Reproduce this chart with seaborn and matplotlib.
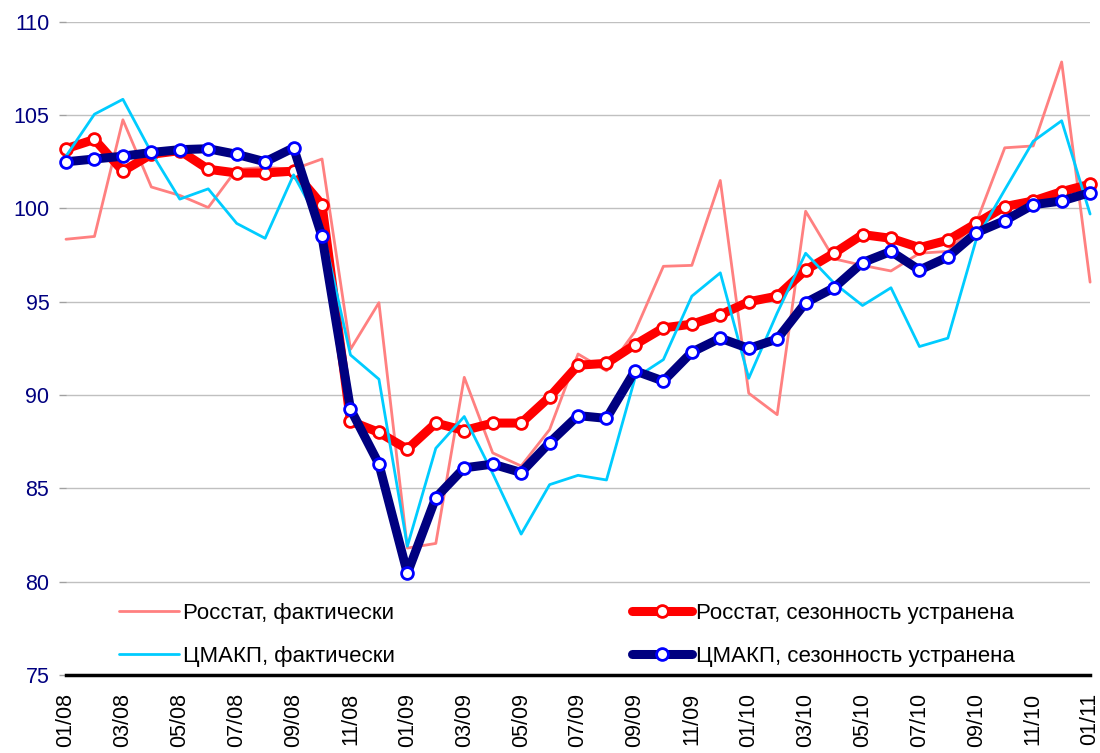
import numpy as np
import pandas as pd
import matplotlib
matplotlib.use("Agg")
import matplotlib.pyplot as plt
import seaborn as sns

# Monthly index values, 01/08 .. 01/11
months = ["01/08", "02/08", "03/08", "04/08", "05/08", "06/08", "07/08", "08/08",
          "09/08", "10/08", "11/08", "12/08", "01/09", "02/09", "03/09", "04/09",
          "05/09", "06/09", "07/09", "08/09", "09/09", "10/09", "11/09", "12/09",
          "01/10", "02/10", "03/10", "04/10", "05/10", "06/10", "07/10", "08/10",
          "09/10", "10/10", "11/10", "12/10", "01/11"]

rosstat_fact = [98.35, 98.5, 104.75, 101.15, 100.7, 100.05, 102.1, 102.2, 102.1, 102.65,
                92.45, 94.95, 81.8, 82.05, 90.95, 86.9, 86.2, 88.15, 92.2, 91.3,
                93.4, 96.9, 96.95, 101.5, 90.1, 88.95, 99.85, 97.3, 96.95, 96.65,
                97.6, 97.7, 99.25, 103.25, 103.35, 107.85, 96.05]
rosstat_sa = [103.2, 103.7, 102.0, 102.9, 103.1, 102.1, 101.9, 101.9, 102.0, 100.2,
              88.6, 88.0, 87.1, 88.5, 88.1, 88.5, 88.5, 89.9, 91.6, 91.7,
              92.7, 93.6, 93.8, 94.3, 95.0, 95.3, 96.7, 97.6, 98.6, 98.4,
              97.9, 98.3, 99.2, 100.1, 100.4, 100.9, 101.3]
cmakp_fact = [102.8, 105.05, 105.85, 103.0, 100.5, 101.05, 99.2, 98.4, 101.8, 99.0,
              92.15, 90.85, 81.9, 87.15, 88.85, 85.8, 82.55, 85.2, 85.7, 85.45,
              90.9, 91.9, 95.3, 96.55, 90.9, 94.4, 97.6, 96.0, 94.8, 95.75,
              92.6, 93.05, 98.35, 101.0, 103.6, 104.7, 99.7]
cmakp_sa = [102.5, 102.65, 102.8, 103.0, 103.15, 103.2, 102.9, 102.5, 103.25, 98.5,
            89.25, 86.3, 80.45, 84.5, 86.1, 86.3, 85.85, 87.45, 88.9, 88.75,
            91.3, 90.75, 92.3, 93.05, 92.5, 93.0, 94.95, 95.75, 97.1, 97.7,
            96.7, 97.4, 98.7, 99.35, 100.2, 100.4, 100.85]

labels = ["Росстат, фактически", "Росстат, сезонность устранена",
          "ЦМАКП, фактически", "ЦМАКП, сезонность устранена"]

df = pd.DataFrame({"t": np.arange(len(months)),
                   "rosstat_fact": rosstat_fact, "rosstat_sa": rosstat_sa,
                   "cmakp_fact": cmakp_fact, "cmakp_sa": cmakp_sa})

sns.set_style("white")
plt.rcParams["font.family"] = ["Liberation Sans", "DejaVu Sans"]

fig = plt.figure(figsize=(11, 7.53), dpi=100)
ax = fig.add_axes([0.06, 0.1036, 0.931, 0.8674])

# Series in Excel order: thin actuals under thick seasonally adjusted lines
sns.lineplot(data=df, x="t", y="rosstat_fact", ax=ax, color="#FF8080",
             linewidth=2, label=labels[0], clip_on=False)
sns.lineplot(data=df, x="t", y="rosstat_sa", ax=ax, color="#FF0000", linewidth=6.5,
             marker="o", markersize=8.5, markerfacecolor="white",
             markeredgecolor="#FF0000", markeredgewidth=2,
             label=labels[1], clip_on=False)
sns.lineplot(data=df, x="t", y="cmakp_fact", ax=ax, color="#00CCFF",
             linewidth=2, label=labels[2], clip_on=False)
sns.lineplot(data=df, x="t", y="cmakp_sa", ax=ax, color="#000080", linewidth=6.5,
             marker="o", markersize=8.5, markerfacecolor="white",
             markeredgecolor="#0000FF", markeredgewidth=2,
             label=labels[3], clip_on=False)

# Axes
ax.set_xlim(0, len(months) - 1)
ax.set_ylim(75, 110)
ax.set_yticks(range(75, 111, 5))
ax.set_xticks(df["t"][::2])
ax.set_xticklabels(months[::2], rotation=90, fontsize=15.5, color="black")
ax.tick_params(axis="x", length=0, pad=13)
ax.tick_params(axis="y", labelsize=15.5, labelcolor="#000080", color="#A0A0A0",
               length=5, width=1, left=True, pad=7)
ax.set_xlabel("")
ax.set_ylabel("")
ax.yaxis.grid(True, color="#C0C0C0", linewidth=1)
ax.xaxis.grid(False)
for side in ["left", "top", "right"]:
    ax.spines[side].set_visible(False)
ax.spines["bottom"].set_color("black")
ax.spines["bottom"].set_linewidth(2.5)

# Legend: two columns inside the plot, no frame
handles, _ = ax.get_legend_handles_labels()
order = [0, 2, 1, 3]
ax.legend([handles[i] for i in order], [labels[i] for i in order],
          ncol=2, loc="upper left", bbox_to_anchor=(0.052, 0.110),
          frameon=False, fontsize=16, labelcolor="black",
          handlelength=2.7, handletextpad=0.15,
          columnspacing=10.7, labelspacing=0.97, borderpad=0, borderaxespad=0)

fig.savefig("out.png", dpi=100)
